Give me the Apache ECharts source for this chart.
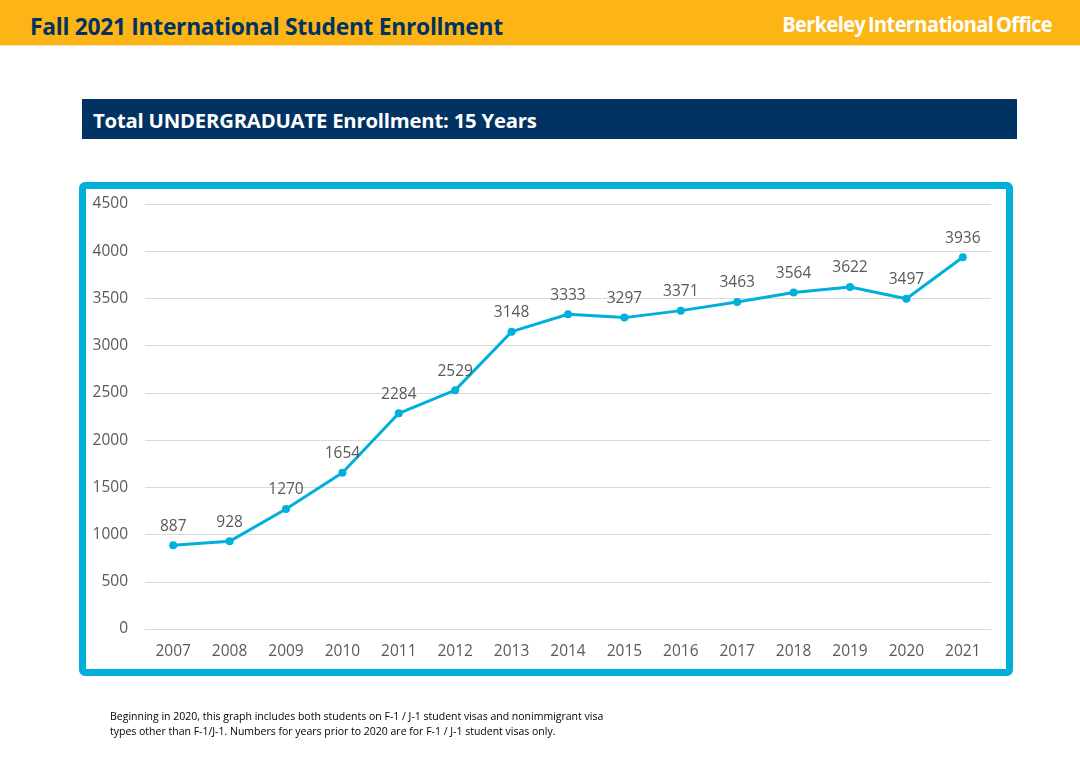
<!DOCTYPE html>
<html>
<head>
<meta charset="utf-8">
<script src="https://cdn.jsdelivr.net/npm/echarts@6/dist/echarts.min.js"></script>
<style>
  html, body { margin: 0; padding: 0; background: #fff; }
  #page { position: relative; width: 1080px; height: 759px; overflow: hidden; background: #fff; }
  #header { position: absolute; left: 0; top: 0; width: 1080px; height: 45px; background: #FDB515; border-bottom: 1px solid #f3e3b8; }
  #title { position: absolute; left: 30px; top: 9px; font-family: "Open Sans", sans-serif; font-weight: bold; font-size: 24px; color: #003262; white-space: nowrap; transform: scaleX(0.95); transform-origin: left center; letter-spacing: -0.3px; }
  #brand { position: absolute; right: 28px; top: 10px; font-family: "Open Sans", sans-serif; font-weight: bold; font-size: 21px; color: #fff; white-space: nowrap; letter-spacing: -0.6px; word-spacing: -2px; transform: scaleX(0.95); transform-origin: right center; }
  #subbar { position: absolute; left: 82px; top: 99px; width: 935px; height: 40px; background: #003262; }
  #subtitle { position: absolute; left: 11px; top: 7px; font-family: "Open Sans", sans-serif; font-weight: bold; font-size: 20.3px; color: #fff; white-space: nowrap; letter-spacing: -0.2px; }
  #frame { position: absolute; left: 79px; top: 182px; width: 934px; height: 494px; border: 7px solid #00B0DA; border-radius: 6px; box-sizing: border-box; }
  #chart { position: absolute; left: 0; top: 0; width: 1080px; height: 759px; }
  #note { position: absolute; left: 110px; top: 709px; font-family: "Open Sans", sans-serif; font-size: 10.5px; line-height: 15px; color: #000; white-space: nowrap; }
</style>
</head>
<body>
<div id="page">
  <div id="header">
    <div id="title">Fall 2021 International Student Enrollment</div>
    <div id="brand">Berkeley International Office</div>
  </div>
  <div id="subbar"><div id="subtitle">Total UNDERGRADUATE Enrollment: 15 Years</div></div>
  <div id="frame"></div>
  <div id="chart"></div>
  <div id="note">Beginning in 2020, this graph includes both students on F-1 / J-1 student visas and nonimmigrant visa<br>types other than F-1/J-1. Numbers for years prior to 2020 are for F-1 / J-1 student visas only.</div>
</div>
<script>
const years = ['2007','2008','2009','2010','2011','2012','2013','2014','2015','2016','2017','2018','2019','2020','2021'];
const enrollment = [887, 928, 1270, 1654, 2284, 2529, 3148, 3333, 3297, 3371, 3463, 3564, 3622, 3497, 3936];

const chart = echarts.init(document.getElementById('chart'), null, { renderer: 'canvas' });
chart.setOption({
  animation: false,
  grid: { left: 145, right: 89, top: 204, bottom: 130, containLabel: false },
  xAxis: {
    type: 'category',
    data: years,
    boundaryGap: true,
    axisLine: { show: true, lineStyle: { color: '#d9d9d9', width: 1 } },
    axisTick: { show: false },
    axisLabel: { color: '#595959', fontSize: 15.5, fontFamily: 'Open Sans', margin: 15 }
  },
  yAxis: {
    type: 'value',
    min: 0, max: 4500, interval: 500,
    axisLine: { show: false },
    axisTick: { show: false },
    splitLine: { lineStyle: { color: '#d9d9d9', width: 1 } },
    axisLabel: { color: '#595959', fontSize: 15.5, fontFamily: 'Open Sans', margin: 17, formatter: v => String(v) }
  },
  series: [{
    type: 'line',
    data: enrollment,
    symbol: 'circle',
    symbolSize: 8,
    lineStyle: { color: '#00B0DA', width: 3 },
    itemStyle: { color: '#00B0DA' },
    label: { show: true, position: 'top', distance: 7, color: '#595959', fontSize: 15.5, fontFamily: 'Open Sans' }
  }]
});
</script>
</body>
</html>
